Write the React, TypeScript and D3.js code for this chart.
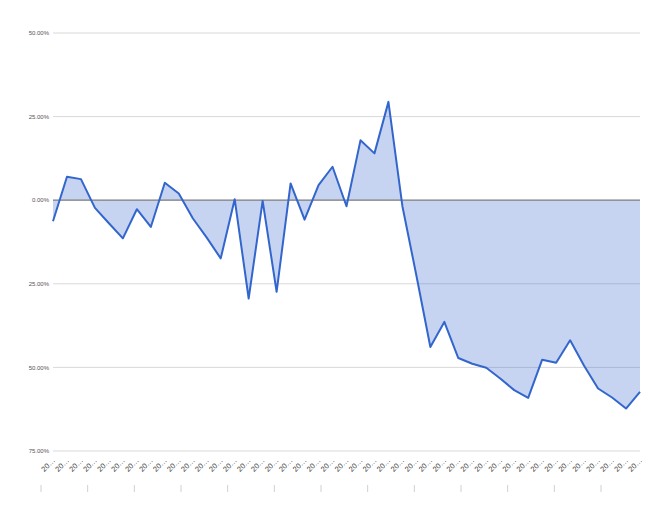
import React from "react";
import * as d3 from "d3";

const values: number[] = [
  -6.3, 7.0, 6.3, -2.3, -6.9, -11.4, -2.7, -8.0, 5.2, 2.0,
  -5.4, -11.2, -17.4, 0.3, -29.4, -0.2, -27.4, 5.0, -5.8, 4.5,
  10.0, -1.8, 17.9, 14.0, 29.4, -1.8, -22.5, -43.9, -36.4, -47.2,
  -48.9, -50.1, -53.3, -56.8, -59.1, -47.7, -48.6, -41.9, -49.5, -56.3,
  -59.0, -62.3, -57.3,
];
const categories: string[] = values.map(() => "20…");
const yTicks: number[] = [50, 25, 0, -25, -50, -75];
const yTickLabels: string[] = ["50.00%", "25.00%", "0.00%", "25.00%", "50.00%", "75.00%"];
const bottomTicks: number[] = d3.range(13);

export default function App() {
  const W = 670, H = 522;
  const x = d3.scalePoint<number>().domain(d3.range(values.length)).range([53, 640]);
  const y = d3.scaleLinear().domain([-75, 50]).range([451, 33]);
  const bx = d3.scaleLinear().domain([0, 12]).range([41, 601]);
  const area = d3.area<number>().x((_, i) => x(i)!).y0(y(0)).y1((d) => y(d));
  const line = d3.line<number>().x((_, i) => x(i)!).y((d) => y(d));
  return (
    <svg width={W} height={H} style={{ position: "absolute", left: 0, top: 0, background: "#fff" }}
      fontFamily="'Liberation Sans', Arial, sans-serif">
      {yTicks.map((t, i) => (
        <g key={"g" + i}>
          {t !== 0 && <line x1={53} x2={640} y1={y(t)} y2={y(t)} stroke="#d9d9d9" strokeWidth={1} />}
          <text x={49} y={y(t)} dy="0.35em" textAnchor="end" fontSize={6} fill="#555">{yTickLabels[i]}</text>
        </g>
      ))}
      <path d={area(values)!} fill="#3366cc" fillOpacity={0.28} />
      <line x1={53} x2={640} y1={y(0)} y2={y(0)} stroke="#7a7a7a" strokeWidth={1.3} />
      <path d={line(values)!} fill="none" stroke="#3366cc" strokeWidth={2} strokeLinejoin="round" />
      {categories.map((c, i) => (
        <text key={"x" + i} transform={`translate(${x(i)! + 2.5},${461}) rotate(-45)`} textAnchor="end"
          fontSize={7.5} fill="#444" style={{ textRendering: "geometricPrecision" }}>{c}</text>
      ))}
      {bottomTicks.map((t) => (
        <line key={"b" + t} x1={bx(t)} x2={bx(t)} y1={485} y2={492} stroke="#d0d0d0" strokeWidth={1} />
      ))}
    </svg>
  );
}
